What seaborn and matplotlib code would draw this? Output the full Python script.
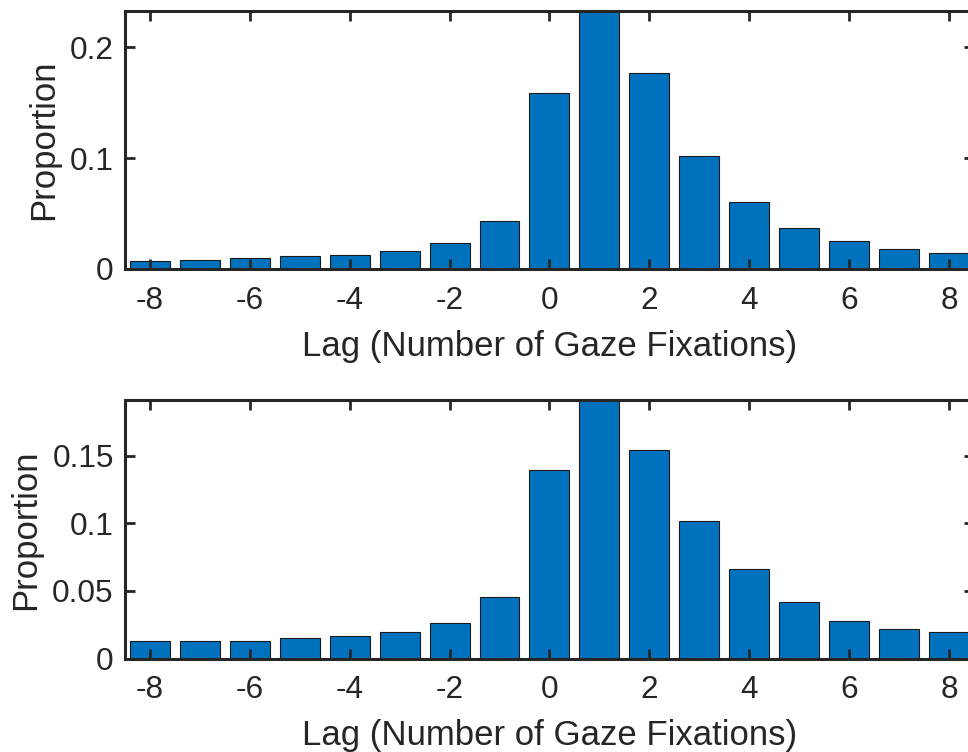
import matplotlib
matplotlib.use("Agg")
import matplotlib.pyplot as plt
import seaborn as sns
import numpy as np
import pandas as pd

# Lag values (number of gaze fixations)
lags = list(range(-8, 9))

# Proportions for each lag, upper panel
prop_top = [0.0075, 0.0084, 0.0099, 0.0114, 0.0126, 0.0162, 0.0234, 0.0432,
            0.159, 0.245, 0.177, 0.102, 0.0604, 0.0366, 0.0255, 0.0177, 0.0141]

# Proportions for each lag, lower panel
prop_bottom = [0.0133, 0.0128, 0.0128, 0.0153, 0.0165, 0.0194, 0.0263, 0.0453,
               0.1393, 0.200, 0.1544, 0.1019, 0.066, 0.0416, 0.0278, 0.0222, 0.0199]

top_yticks = [0, 0.1, 0.2]
top_yticklabels = ["0", "0.1", "0.2"]
bottom_yticks = [0, 0.05, 0.1, 0.15]
bottom_yticklabels = ["0", "0.05", "0.1", "0.15"]
xticks = [-8, -6, -4, -2, 0, 2, 4, 6, 8]

sns.set_theme(style="white")
plt.rcParams["font.family"] = ["Liberation Sans", "DejaVu Sans"]

BAR = "#0072BD"
INK = "#262626"

fig = plt.figure(figsize=(9.68, 7.52), dpi=100)

panels = [
    (prop_top, top_yticks, top_yticklabels, 0.2327, [0.1291, 0.6423, 0.877, 0.3431]),
    (prop_bottom, bottom_yticks, bottom_yticklabels, 0.191, [0.1291, 0.1241, 0.877, 0.3440]),
]

for vals, yt, ytl, ytop, pos in panels:
    ax = fig.add_axes(pos)
    df = pd.DataFrame({"lag": lags, "prop": vals})
    sns.barplot(data=df, x="lag", y="prop", native_scale=True, width=0.8,
                color=BAR, saturation=1, edgecolor="#1a1a1a", linewidth=0.8,
                ax=ax)
    ax.set_axisbelow(False)
    ax.set_xlim(-8.5, 8.5)
    ax.set_ylim(0, ytop)
    ax.set_xticks(xticks)
    ax.set_xticklabels([str(t) for t in xticks])
    ax.set_yticks(yt)
    ax.set_yticklabels(ytl)
    ax.set_xlabel("Lag (Number of Gaze Fixations)", fontsize=25, color=INK, labelpad=10)
    ax.set_ylabel("Proportion", fontsize=25, color=INK, labelpad=7)
    ax.tick_params(axis="both", which="both", direction="in", length=7, width=2,
                   labelsize=22.7, colors=INK, top=True, right=True,
                   bottom=True, left=True, pad=12)
    ax.tick_params(axis="y", pad=8)
    for sp in ax.spines.values():
        sp.set_visible(True)
        sp.set_color(INK)
        sp.set_linewidth(2.2)

fig.savefig("out.png", dpi=100)
